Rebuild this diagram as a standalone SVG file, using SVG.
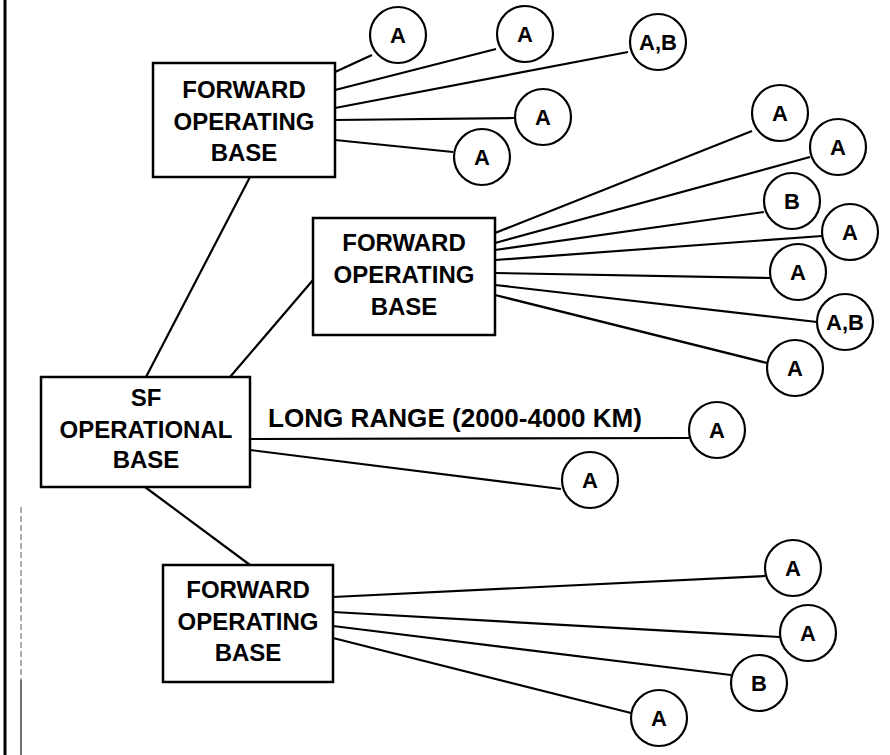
<svg xmlns="http://www.w3.org/2000/svg" width="890" height="755" viewBox="0 0 890 755">
<style>
.box{fill:#fff;stroke:#000;stroke-width:2.5}
.c{fill:#fff;stroke:#000;stroke-width:2.2}
.ln{stroke:#000;stroke-width:2.2;fill:none}
.t{font-family:"Liberation Sans",Arial,sans-serif;font-weight:bold;font-size:24px;text-anchor:middle;fill:#000}
.ct{font-family:"Liberation Sans",Arial,sans-serif;font-weight:bold;font-size:22px;text-anchor:middle;fill:#000}
.lbl{font-family:"Liberation Sans",Arial,sans-serif;font-weight:bold;font-size:25px;fill:#000}
</style>
<rect width="890" height="755" fill="#fff"/>
<g id="border">
<line x1="5" y1="0" x2="5" y2="755" stroke="#000" stroke-width="3"/>
<line x1="21" y1="507" x2="21" y2="680" stroke="#777" stroke-width="1.2" stroke-dasharray="6 3"/>
<line x1="21" y1="680" x2="21" y2="755" stroke="#444" stroke-width="1.5"/>
</g>
<g id="connectors">
<line class="ln" x1="250" y1="177" x2="146" y2="377"/>
<line class="ln" x1="313" y1="280" x2="230" y2="377"/>
<line class="ln" x1="145" y1="487" x2="250" y2="565"/>
<line class="ln" x1="335" y1="72" x2="372" y2="55"/>
<line class="ln" x1="335" y1="90" x2="496" y2="49"/>
<line class="ln" x1="335" y1="108" x2="628" y2="52"/>
<line class="ln" x1="335" y1="120" x2="514" y2="118"/>
<line class="ln" x1="335" y1="140" x2="453" y2="152"/>
<line class="ln" x1="495" y1="233" x2="752" y2="131"/>
<line class="ln" x1="495" y1="243" x2="810" y2="157"/>
<line class="ln" x1="495" y1="250" x2="764" y2="212"/>
<line class="ln" x1="495" y1="260" x2="822" y2="236"/>
<line class="ln" x1="495" y1="273" x2="770" y2="278"/>
<line class="ln" x1="495" y1="285" x2="817" y2="322"/>
<line class="ln" x1="495" y1="295" x2="767" y2="363"/>
<line class="ln" x1="250" y1="439" x2="689" y2="438"/>
<line class="ln" x1="250" y1="450" x2="561" y2="489"/>
<line class="ln" x1="333" y1="597" x2="765" y2="576"/>
<line class="ln" x1="333" y1="612" x2="780" y2="637"/>
<line class="ln" x1="333" y1="626" x2="731" y2="675"/>
<line class="ln" x1="333" y1="638" x2="631" y2="713"/>
<text class="lbl" x="268" y="427" textLength="374" lengthAdjust="spacingAndGlyphs">LONG RANGE (2000-4000 KM)</text>
</g>
<g id="fob1">
<rect class="box" x="153" y="63" width="182" height="114"/>
<text class="t" x="244" y="98">FORWARD</text>
<text class="t" x="244" y="130">OPERATING</text>
<text class="t" x="244" y="161">BASE</text>
</g>
<g id="fob2">
<rect class="box" x="313" y="218" width="182" height="117"/>
<text class="t" x="404" y="251">FORWARD</text>
<text class="t" x="404" y="283">OPERATING</text>
<text class="t" x="404" y="315">BASE</text>
</g>
<g id="sfob">
<rect class="box" x="41" y="377" width="209" height="110"/>
<text class="t" x="146" y="406">SF</text>
<text class="t" x="146" y="438">OPERATIONAL</text>
<text class="t" x="146" y="468">BASE</text>
</g>
<g id="fob3">
<rect class="box" x="163" y="565" width="170" height="117"/>
<text class="t" x="248" y="598">FORWARD</text>
<text class="t" x="248" y="630">OPERATING</text>
<text class="t" x="248" y="661">BASE</text>
</g>
<g id="n1"><circle class="c" cx="398" cy="35" r="28"/><text class="ct" x="398" y="43">A</text></g>
<g id="n2"><circle class="c" cx="525" cy="34" r="28"/><text class="ct" x="525" y="42">A</text></g>
<g id="n3"><circle class="c" cx="658" cy="42" r="28"/><text class="ct" x="658" y="50">A,B</text></g>
<g id="n4"><circle class="c" cx="543" cy="117" r="28"/><text class="ct" x="543" y="125">A</text></g>
<g id="n5"><circle class="c" cx="482" cy="157" r="28"/><text class="ct" x="482" y="165">A</text></g>
<g id="n6"><circle class="c" cx="780" cy="113" r="28"/><text class="ct" x="780" y="121">A</text></g>
<g id="n7"><circle class="c" cx="838" cy="147" r="28"/><text class="ct" x="838" y="155">A</text></g>
<g id="n8"><circle class="c" cx="792" cy="201" r="28"/><text class="ct" x="792" y="209">B</text></g>
<g id="n9"><circle class="c" cx="850" cy="232" r="28"/><text class="ct" x="850" y="240">A</text></g>
<g id="n10"><circle class="c" cx="798" cy="272" r="28"/><text class="ct" x="798" y="280">A</text></g>
<g id="n11"><circle class="c" cx="845" cy="322" r="28"/><text class="ct" x="845" y="330">A,B</text></g>
<g id="n12"><circle class="c" cx="795" cy="368" r="28"/><text class="ct" x="795" y="376">A</text></g>
<g id="n13"><circle class="c" cx="717" cy="430" r="28"/><text class="ct" x="717" y="438">A</text></g>
<g id="n14"><circle class="c" cx="590" cy="480" r="28"/><text class="ct" x="590" y="488">A</text></g>
<g id="n15"><circle class="c" cx="793" cy="568" r="28"/><text class="ct" x="793" y="576">A</text></g>
<g id="n16"><circle class="c" cx="808" cy="633" r="28"/><text class="ct" x="808" y="641">A</text></g>
<g id="n17"><circle class="c" cx="759" cy="683" r="28"/><text class="ct" x="759" y="691">B</text></g>
<g id="n18"><circle class="c" cx="659" cy="718" r="28"/><text class="ct" x="659" y="726">A</text></g>
</svg>
